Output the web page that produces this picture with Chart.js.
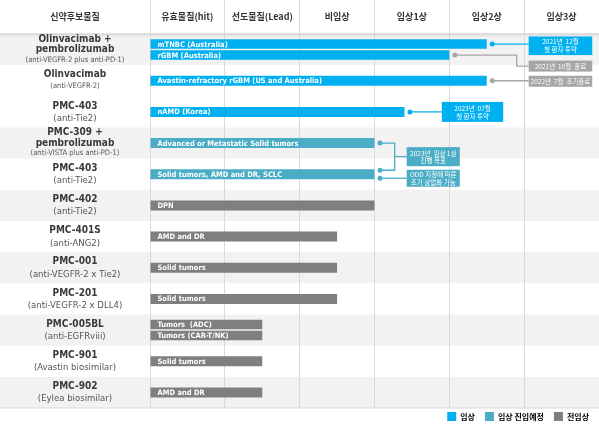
<!DOCTYPE html>
<html>
<head>
<meta charset="utf-8">
<script src="https://cdn.jsdelivr.net/npm/chart.js@4.4.1/dist/chart.umd.min.js"></script>
<style>
  html, body { margin: 0; padding: 0; background: #fff; }
</style>
</head>
<body>
<canvas id="pipeline" width="599" height="429"></canvas>
<script>
// development stages (columns)
const stages = ['유효물질(hit)', '선도물질(Lead)', '비임상', '임상1상', '임상2상', '임상3상'];
const phases = ['임상', '임상 진입예정', '전임상'];

// candidates (rows)
const drugNames = [
  ['Olinvacimab +', 'pembrolizumab'],
  ['Olinvacimab'],
  ['PMC-403'],
  ['PMC-309 +', 'pembrolizumab'],
  ['PMC-403'],
  ['PMC-402'],
  ['PMC-401S'],
  ['PMC-001'],
  ['PMC-201'],
  ['PMC-005BL'],
  ['PMC-901'],
  ['PMC-902']
];
const drugTargets = [
  '(anti-VEGFR-2 plus anti-PD-1)', '(anti-VEGFR-2)', '(anti-Tie2)', '(anti-VISTA plus anti-PD-1)',
  '(anti-Tie2)', '(anti-Tie2)', '(anti-ANG2)', '(anti-VEGFR-2 x Tie2)', '(anti-VEGFR-2 x DLL4)',
  '(anti-EGFRviii)', '(Avastin biosimilar)', '(Eylea biosimilar)'
];

// first indication of each row
const indication1 = [
  'mTNBC (Australia)', 'Avastin-refractory rGBM (US and Australia)', 'nAMD (Korea)',
  'Advanced or Metastatic Solid tumors', 'Solid tumors, AMD and DR, SCLC', 'DPN', 'AMD and DR',
  'Solid tumors', 'Solid tumors', 'Tumors  (ADC)', 'Solid tumors', 'AMD and DR'
];
const progress1 = [4.5, 4.5, 3.4, 3, 3, 3, 2.5, 2.5, 2.5, 1.5, 1.5, 1.5];
const status1 = ['임상', '임상', '임상', '임상 진입예정', '임상 진입예정', '전임상', '전임상', '전임상', '전임상', '전임상', '전임상', '전임상'];

// second indication (only some rows)
const indication2 = ['rGBM (Australia)', null, null, null, null, null, null, null, null, 'Tumors (CAR-T/NK)', null, null];
const progress2 = [4, null, null, null, null, null, null, null, null, 1.5, null, null];
const status2 = ['임상', null, null, null, null, null, null, null, null, '전임상', null, null];

// callout notes: row, bar in row, text
const notes = [
  { row: 0, bar: 0, lines: ['2021년  12월', '첫 환자 투약'] },
  { row: 0, bar: 1, lines: ['2021년  10월  종료'] },
  { row: 1, bar: 0, lines: ['2022년  7월  조기종료'] },
  { row: 2, bar: 0, lines: ['2023년  07월', '첫 환자 투약'] },
  { row: 3, bar: 0, lines: ['2023년  임상 1상', '진행 목표'] },
  { row: 4, bar: 0, lines: ['ODD 지정에 따른', '조기 상업화 가능'] }
];

// ---- styles ----
const BLUE = '#00b0f0', TEAL = '#4bacc6', GREY = '#7f7f7f', NOTE_GREY = '#a6a6a6';
const phaseColor = { '임상': BLUE, '임상 진입예정': TEAL, '전임상': GREY };
const NARROW = "'Liberation Sans Narrow', 'Arial Narrow', 'DejaVu Sans Condensed', sans-serif";
const KR = "'Noto Sans CJK KR', 'Noto Sans', sans-serif";
const SHADED = [0, 3, 5, 7, 9, 11];
const SMALL_SUB = [0, 1, 3];

// layout of the callouts, x in stage units
const noteLayout = [
  { from: 5.06, to: 5.91, h: 20, dy: 1, color: BLUE },
  { from: 5.06, to: 5.91, h: 11, dy: 11, elbow: 4.9, color: NOTE_GREY },
  { from: 5.06, to: 5.91, h: 11, dy: 0.5, color: NOTE_GREY },
  { from: 3.9, to: 4.72, h: 20, dy: 0, color: BLUE },
  { from: 3.43, to: 4.14, h: 19, bracketTo: 4, bracketX: 3.27, color: TEAL },
  { from: 3.43, to: 4.14, h: 17, anchorDy: 4, dy: 0, color: TEAL }
];

function barEl(chart, row, bar) {
  return chart.getDatasetMeta(bar).data[row];
}

const tablePlugin = {
  id: 'table',
  afterLayout(chart) {
    // lift legend a bit so it sits right under the table
    const lg = chart.legend;
    lg.top -= 6; lg.bottom -= 6;
  },
  beforeDraw(chart) {
    const { ctx, width, height, scales: { y } } = chart;
    ctx.save();
    ctx.fillStyle = '#fff';
    ctx.fillRect(0, 0, width, height);
    const half = (y.getPixelForValue(1) - y.getPixelForValue(0)) / 2;
    ctx.fillStyle = '#f2f2f2';
    SHADED.forEach(i => {
      const c = y.getPixelForValue(i);
      ctx.fillRect(0, c - half, width, half * 2);
    });
    ctx.restore();
  },
  afterDatasetsDraw(chart) {
    const { ctx, scales: { x, y } } = chart;
    ctx.save();
    // labels inside bars
    ctx.fillStyle = '#fff';
    ctx.font = `bold 7.5px ${NARROW}`;
    ctx.textBaseline = 'middle';
    ctx.textAlign = 'left';
    [indication1, indication2].forEach((texts, d) => {
      texts.forEach((t, i) => {
        if (!t) return;
        const el = barEl(chart, i, d);
        ctx.fillText(t, el.base + 7, el.y + 0.5);
      });
    });

    // callouts
    notes.forEach((n, k) => {
      const L = noteLayout[k];
      const el = barEl(chart, n.row, n.bar);
      const ax = el.x + 5.5;
      const ay = el.y + (L.anchorDy || 0);
      const bx0 = x.getPixelForValue(L.from), bx1 = x.getPixelForValue(L.to);
      let cy = ay + (L.dy || 0);
      ctx.strokeStyle = L.color;
      ctx.fillStyle = L.color;
      ctx.lineWidth = 1.3;
      ctx.beginPath();
      if (L.bracketTo !== undefined) {
        const el2 = barEl(chart, L.bracketTo, 0);
        const ay2 = el2.y - 4;
        const ex = x.getPixelForValue(L.bracketX);
        cy = (ay + ay2) / 2;
        ctx.moveTo(ax, ay); ctx.lineTo(ex, ay); ctx.lineTo(ex, ay2); ctx.lineTo(ax, ay2);
        ctx.moveTo(ex, cy); ctx.lineTo(bx0, cy);
        ctx.stroke();
        ctx.beginPath(); ctx.arc(ax, ay2, 2.5, 0, Math.PI * 2); ctx.fill();
      } else if (L.elbow !== undefined) {
        const ex = x.getPixelForValue(L.elbow);
        ctx.moveTo(ax, ay); ctx.lineTo(ex, ay); ctx.lineTo(ex, cy); ctx.lineTo(bx0, cy);
        ctx.stroke();
      } else {
        ctx.moveTo(ax, ay); ctx.lineTo(bx0, ay);
        ctx.stroke();
      }
      ctx.beginPath(); ctx.arc(ax, ay, 2.5, 0, Math.PI * 2); ctx.fill();
      ctx.fillRect(bx0, cy - L.h / 2, bx1 - bx0, L.h);
      ctx.fillStyle = '#fff';
      ctx.font = `6.5px ${KR}`;
      ctx.textAlign = 'center';
      const lh = 7.5;
      n.lines.forEach((t, j) => {
        ctx.fillText(t, (bx0 + bx1) / 2, cy + (j - (n.lines.length - 1) / 2) * lh + 0.5);
      });
      ctx.textAlign = 'left';
    });
    ctx.restore();
  },
  afterDraw(chart) {
    const { ctx, width, chartArea, scales: { y } } = chart;
    ctx.save();
    // header / bottom rules
    ctx.fillStyle = '#e6e6e6';
    ctx.fillRect(0, chartArea.top + 1, width, 1.5);
    ctx.fillStyle = '#c4c4c4';
    ctx.fillRect(0, chartArea.top - 0.5, width, 1);
    ctx.fillStyle = '#d9d9d9';
    ctx.fillRect(0, chartArea.bottom - 0.5, width, 1);

    ctx.fillStyle = '#333';
    ctx.textAlign = 'center';
    ctx.textBaseline = 'middle';
    ctx.font = `bold 9px ${KR}`;
    ctx.fillText('신약후보물질', chartArea.left / 2, chartArea.top / 2);

    // row labels
    const cx = chartArea.left / 2;
    drugNames.forEach((names, i) => {
      const c = y.getPixelForValue(i);
      const small = SMALL_SUB.includes(i);
      const three = names.length > 1;
      const pos = three ? [c - 10.5, c, c + 10.5] : [c - 6, c + 6];
      ctx.fillStyle = '#3a3a3a';
      ctx.font = `bold 10px ${NARROW}`;
      names.forEach((t, j) => ctx.fillText(t, cx, pos[j]));
      ctx.fillStyle = '#555';
      ctx.font = small ? `7.5px ${NARROW}` : `9.5px ${NARROW}`;
      ctx.fillText(drugTargets[i], cx, pos[names.length] + (small ? -0.5 : 0.5));
    });
    ctx.restore();
  }
};

new Chart(document.getElementById('pipeline'), {
  type: 'bar',
  data: {
    labels: drugNames.map(n => n.join(' ')),
    datasets: [
      { label: 'indication 1', data: progress1, backgroundColor: status1.map(s => phaseColor[s]) },
      { label: 'indication 2', data: progress2, backgroundColor: status2.map(s => phaseColor[s] || GREY) }
    ]
  },
  options: {
    indexAxis: 'y',
    responsive: false,
    animation: false,
    devicePixelRatio: 1,
    layout: { padding: 0 },
    datasets: {
      bar: { skipNull: true, categoryPercentage: 0.706, barPercentage: 0.86, maxBarThickness: 10, borderWidth: 0 }
    },
    scales: {
      x: {
        type: 'linear', position: 'top', min: 0, max: 6,
        afterBuildTicks: s => { s.ticks = [0, 1, 2, 3, 4, 5, 6].map(v => ({ value: v })); },
        afterFit: s => { s.height = 34; },
        grid: { color: '#d9d9d9', lineWidth: 1, drawTicks: true, tickLength: 34, tickColor: '#d9d9d9' },
        border: { display: false },
        ticks: {
          padding: -22, labelOffset: 37.4, color: '#333', autoSkip: false, maxRotation: 0,
          font: { family: KR, size: 9, weight: 'bold' },
          callback: (v, i) => stages[i] || ''
        }
      },
      y: {
        type: 'category',
        afterFit: s => { s.width = 150; },
        grid: { display: false },
        border: { display: false },
        ticks: { display: false }
      }
    },
    plugins: {
      legend: {
        position: 'bottom', align: 'end', maxHeight: 21, onClick: null,
        labels: {
          boxWidth: 9, boxHeight: 9, padding: 10, color: '#404040',
          font: { family: KR, size: 8, weight: 'bold' },
          generateLabels: () => phases.map(p => ({
            text: p, fillStyle: phaseColor[p], strokeStyle: phaseColor[p], lineWidth: 0, hidden: false
          }))
        }
      },
      tooltip: { enabled: false }
    }
  },
  plugins: [tablePlugin]
});
</script>
</body>
</html>
